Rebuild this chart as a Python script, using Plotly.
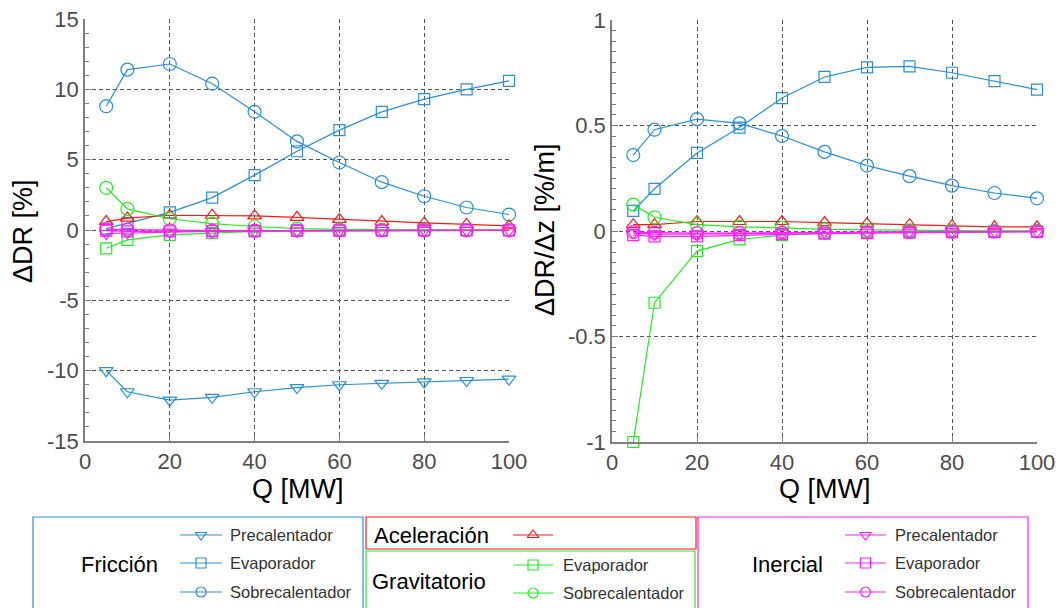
import plotly.graph_objects as go

# ---------------- data ----------------
Q = [5, 10, 20, 30, 40, 50, 60, 70, 80, 90, 100]

# Left panel: ΔDR [%]
fric_pre_L = [-10.0, -11.5, -12.1, -11.9, -11.5, -11.2, -11.0, -10.9, -10.8, -10.7, -10.6]
fric_eva_L = [0.1, 0.5, 1.25, 2.3, 3.9, 5.6, 7.1, 8.4, 9.3, 10.0, 10.6]
fric_sob_L = [8.8, 11.4, 11.8, 10.4, 8.4, 6.3, 4.8, 3.4, 2.4, 1.6, 1.1]
acel_L = [0.6, 0.85, 1.05, 1.05, 1.0, 0.9, 0.75, 0.6, 0.5, 0.4, 0.3]
grav_eva_L = [-1.3, -0.7, -0.35, -0.2, -0.1, -0.05, -0.03, -0.02, -0.01, -0.01, -0.01]
grav_sob_L = [3.0, 1.5, 0.8, 0.45, 0.25, 0.1, 0.05, 0.02, 0.01, 0.0, 0.0]
iner_pre_L = [-0.25, -0.2, -0.15, -0.1, -0.08, -0.06, -0.05, -0.04, -0.03, -0.03, -0.02]
iner_eva_L = [-0.05, -0.1, -0.1, -0.08, -0.06, -0.05, -0.04, -0.03, -0.03, -0.02, -0.02]
iner_sob_L = [0.05, 0.02, -0.02, -0.05, -0.05, -0.04, -0.03, -0.03, -0.02, -0.02, -0.02]

# Right panel: ΔDR/Δz [%/m]
fric_eva_R = [0.095, 0.2, 0.37, 0.49, 0.63, 0.73, 0.775, 0.78, 0.75, 0.71, 0.67]
fric_sob_R = [0.36, 0.48, 0.53, 0.51, 0.45, 0.375, 0.31, 0.26, 0.215, 0.18, 0.155]
acel_R = [0.03, 0.03, 0.045, 0.045, 0.045, 0.04, 0.035, 0.03, 0.025, 0.02, 0.02]
grav_eva_R = [-1.0, -0.34, -0.095, -0.04, -0.02, -0.01, -0.006, -0.004, -0.003, -0.002, -0.002]
grav_sob_R = [0.125, 0.065, 0.03, 0.02, 0.015, 0.008, 0.005, 0.003, 0.002, 0.001, 0.001]
iner_pre_R = [-0.01, -0.015, -0.015, -0.012, -0.01, -0.008, -0.006, -0.005, -0.004, -0.003, -0.003]
iner_eva_R = [-0.02, -0.025, -0.025, -0.02, -0.015, -0.012, -0.01, -0.008, -0.006, -0.005, -0.004]
iner_sob_R = [-0.005, -0.008, -0.01, -0.01, -0.008, -0.006, -0.005, -0.004, -0.003, -0.002, -0.002]

# tick labels
x_ticks = [0, 20, 40, 60, 80, 100]
x_ticktext = ["0", "20", "40", "60", "80", "100"]
yL_ticks = [-15, -10, -5, 0, 5, 10, 15]
yL_ticktext = ["-15", "-10", "-5", "0", "5", "10", "15"]
yR_ticks = [-1, -0.5, 0, 0.5, 1]
yR_ticktext = ["-1", "-0.5", "0", "0.5", "1"]

# texts
x_title = "Q [MW]"
yL_title = "ΔDR [%]"
yR_title = "ΔDR/Δz [%/m]"
group_labels = ["Fricción", "Aceleración", "Gravitatorio", "Inercial"]
entry_labels = ["Precalentador", "Evaporador", "Sobrecalentador"]

BLUE = "#2a8fd6"
RED = "#ff1a1a"
GREEN = "#22ee22"
MAG = "#ff22ff"

W, H = 1061, 608
FONT = "Liberation Sans, Arial, sans-serif"

fig = go.Figure()


def add(x, y, color, symbol, xa, ya, size=12):
    fig.add_trace(go.Scatter(
        x=x, y=y, mode="lines+markers", xaxis=xa, yaxis=ya,
        line=dict(color=color, width=1.2),
        marker=dict(symbol=symbol, size=size, color=color,
                    line=dict(color=color, width=1.2)),
        showlegend=False, cliponaxis=False))


# left panel
add(Q, fric_pre_L, BLUE, "triangle-down-open", "x", "y")
add(Q, fric_eva_L, BLUE, "square-open", "x", "y", 11)
add(Q, fric_sob_L, BLUE, "circle-open", "x", "y", 13)
add(Q, acel_L, RED, "triangle-up-open", "x", "y")
add(Q, grav_eva_L, GREEN, "square-open", "x", "y", 11)
add(Q, grav_sob_L, GREEN, "circle-open", "x", "y", 13)
add(Q, iner_pre_L, MAG, "triangle-down-open", "x", "y")
add(Q, iner_eva_L, MAG, "square-open", "x", "y", 11)
add(Q, iner_sob_L, MAG, "circle-open", "x", "y", 13)

# right panel
add(Q, fric_eva_R, BLUE, "square-open", "x2", "y2", 11)
add(Q, fric_sob_R, BLUE, "circle-open", "x2", "y2", 13)
add(Q, acel_R, RED, "triangle-up-open", "x2", "y2")
add(Q, grav_eva_R, GREEN, "square-open", "x2", "y2", 11)
add(Q, grav_sob_R, GREEN, "circle-open", "x2", "y2", 13)
add(Q, iner_pre_R, MAG, "triangle-down-open", "x2", "y2")
add(Q, iner_eva_R, MAG, "square-open", "x2", "y2", 11)
add(Q, iner_sob_R, MAG, "circle-open", "x2", "y2", 13)

axis_common = dict(
    showline=True, linecolor="#7f7f7f", linewidth=1.5, mirror=False,
    showgrid=True, gridcolor="#555555", griddash="4px,3px", gridwidth=1,
    zeroline=False, ticks="inside", ticklen=6, tickcolor="#7f7f7f",
    tickfont=dict(size=22, color="#4d4d4d", family=FONT),
    automargin=False, tickmode="array",
)


def ypix(p):
    return 1 - p / H


fig.update_layout(
    width=W, height=H, margin=dict(l=0, r=0, t=0, b=0, autoexpand=False),
    paper_bgcolor="white", plot_bgcolor="rgba(0,0,0,0)",
    font=dict(family=FONT),
    xaxis=dict(domain=[85 / W, 509 / W], range=[0, 100], anchor="y",
               tickvals=x_ticks, ticktext=x_ticktext, **axis_common),
    yaxis=dict(domain=[ypix(441), ypix(19)], range=[-15, 15], anchor="x",
               tickvals=yL_ticks, ticktext=yL_ticktext,
               minor=dict(dtick=1, ticks="inside", ticklen=4, tickcolor="#7f7f7f", showgrid=False),
               **axis_common),
    xaxis2=dict(domain=[612 / W, 1037 / W], range=[0, 100], anchor="y2",
                tickvals=x_ticks, ticktext=x_ticktext, **axis_common),
    yaxis2=dict(domain=[ypix(442), ypix(20)], range=[-1, 1], anchor="x2",
                tickvals=yR_ticks, ticktext=yR_ticktext,
                minor=dict(dtick=0.05, ticks="inside", ticklen=4, tickcolor="#7f7f7f", showgrid=False),
                **axis_common),
    # pixel overlay axes for the custom legend
    xaxis3=dict(domain=[0, 1], range=[0, W], visible=False, anchor="y3", fixedrange=True),
    yaxis3=dict(domain=[0, 1], range=[H, 0], visible=False, anchor="x3", fixedrange=True),
)

# ---------- custom legend & titles ----------
shapes = []
annotations = []


def box(x0, y0, x1, y1, color):
    shapes.append(dict(type="rect", xref="x3", yref="y3", x0=x0, y0=y0, x1=x1, y1=y1,
                       line=dict(color=color, width=1.2), fillcolor="rgba(0,0,0,0)"))


def label(x, y, text, size, anchor="left", color="black", angle=0):
    annotations.append(dict(xref="x3", yref="y3", x=x, y=y, text=text, showarrow=False,
                            xanchor=anchor, yanchor="middle", textangle=angle,
                            font=dict(size=size, color=color, family=FONT)))


def sample(x0, x1, y, color, symbol, size=10):
    fig.add_trace(go.Scatter(
        x=[x0, x1], y=[y, y], mode="lines", xaxis="x3", yaxis="y3",
        line=dict(color=color, width=1.2), showlegend=False, hoverinfo="skip", cliponaxis=False))
    fig.add_trace(go.Scatter(
        x=[(x0 + x1) / 2], y=[y], mode="markers", xaxis="x3", yaxis="y3",
        marker=dict(symbol=symbol, size=size, color=color, line=dict(color=color, width=1.2)),
        showlegend=False, hoverinfo="skip", cliponaxis=False))


# axis titles
label(297, 489, x_title, 27, "center")
label(824, 489, x_title, 27, "center")
label(23, 231, yL_title, 27, "center", angle=-90)
label(545, 230, yR_title, 27, "center", angle=-90)

# Fricción
box(33, 517, 363, 612, BLUE)
label(119, 564, group_labels[0], 22, "center")
for yy, sym, txt in zip([535, 563, 592], ["triangle-down-open", "square-open", "circle-open"], entry_labels):
    sample(180, 222, yy, BLUE, sym)
    label(228, yy, txt, 16.5, color="#333333")

# Aceleración
box(366, 517, 696, 549, RED)
label(372, 535, group_labels[1], 22)
sample(513, 553, 535, RED, "triangle-up-open")

# Gravitatorio
box(366, 551, 695, 612, GREEN)
label(370, 581, group_labels[2], 22)
for yy, sym, txt in zip([565, 593], ["square-open", "circle-open"], entry_labels[1:]):
    sample(513, 553, yy, GREEN, sym)
    label(561, yy, txt, 16.5, color="#333333")

# Inercial
box(698, 517, 1028, 612, MAG)
label(787, 564, group_labels[3], 22, "center")
for yy, sym, txt in zip([535, 563, 592], ["triangle-down-open", "square-open", "circle-open"], entry_labels):
    sample(845, 886, yy, MAG, sym)
    label(893, yy, txt, 16.5, color="#333333")

fig.update_layout(shapes=shapes, annotations=annotations)

fig.write_html("out.html")
